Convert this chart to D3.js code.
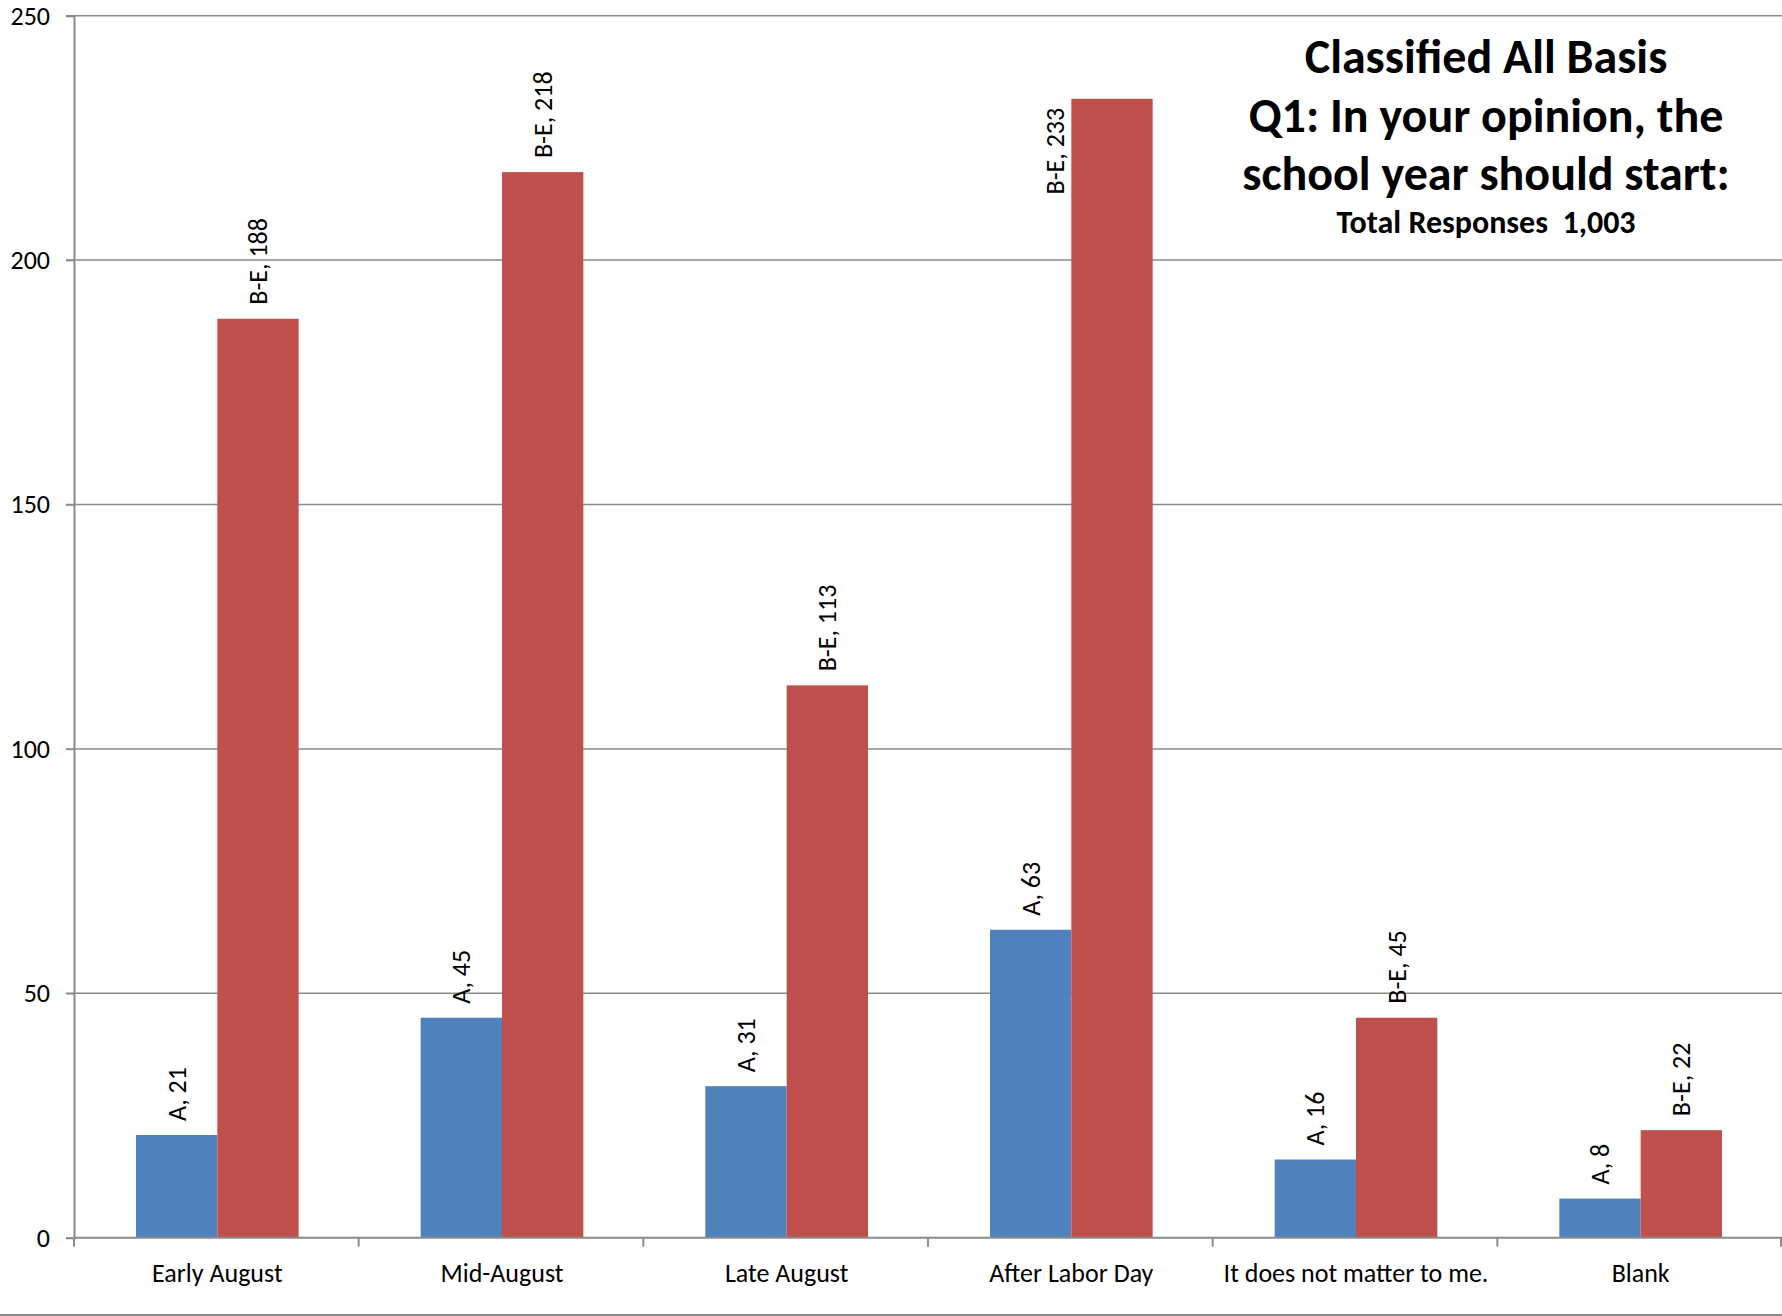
<!DOCTYPE html>
<html><head><meta charset="utf-8">
<script src="https://cdn.jsdelivr.net/npm/d3@7"></script>
<style>
html,body{margin:0;padding:0;background:#fff;}
svg{display:block;font-family:Calibri, Carlito, Lato, sans-serif;}
</style></head>
<body>
<script>
const categories = ["Early August","Mid-August","Late August","After Labor Day","It does not matter to me.","Blank"];
const seriesNames = ["A","B-E"];
const valuesA = [21,45,31,63,16,8];
const valuesBE = [188,218,113,233,45,22];
const yTicks = [0,50,100,150,200,250];
const titleLines = ["Classified All Basis","Q1: In your opinion, the","school year should start:"];
const subtitle = "Total Responses  1,003";
const colors = ["#4F81BD","#C0504D"];

(function(){
const W = 1782, H = 1316;
const pl = 74, pr = 1782, pt = 15.7, pb = 1237.7;
const FS = 26;

const svg = d3.select("body").append("svg").attr("width",W).attr("height",H);

const x = d3.scaleBand().domain(categories).range([pl+1,pr+1]).paddingInner(0).paddingOuter(0);
const barW = x.bandwidth()/3.5;
const xs = d3.scaleBand().domain(seriesNames).range([0,2*barW]);
const y = d3.scaleLinear().domain([0,250]).range([pb,pt]);

// gridlines
svg.append("g").selectAll("line").data(yTicks.filter(d=>d>0)).join("line")
  .attr("x1",66).attr("x2",pr).attr("y1",d=>y(d)).attr("y2",d=>y(d))
  .attr("stroke","#8a8a8a").attr("stroke-width",1.5);

// y axis
const yAxis = d3.axisLeft(y).tickValues(yTicks).tickSize(8).tickPadding(16);
const gy = svg.append("g").attr("transform",`translate(${pl},0)`).call(yAxis);
gy.select(".domain").attr("stroke","#8a8a8a").attr("stroke-width",2);
gy.selectAll(".tick line").attr("stroke","#8a8a8a").attr("stroke-width",1.5);
gy.selectAll(".tick text").attr("font-size",FS).attr("fill","#000").attr("font-family","Calibri, Carlito, Lato, sans-serif");

// bars
const data = categories.map((c,i)=>({cat:c, vals:[{s:"A",v:valuesA[i]},{s:"B-E",v:valuesBE[i]}]}));
const groups = svg.append("g").selectAll("g").data(data).join("g")
  .attr("transform",d=>`translate(${x(d.cat)+x.bandwidth()/2-barW},0)`);
groups.selectAll("rect").data(d=>d.vals).join("rect")
  .attr("x",d=>xs(d.s)).attr("width",barW)
  .attr("y",d=>y(d.v)).attr("height",d=>y(0)-y(d.v))
  .attr("fill",(d,i)=>colors[i]);
groups.selectAll("text").data(d=>d.vals).join("text")
  .attr("font-size",FS).attr("fill","#000")
  .text(d=>`${d.s}, ${d.v}`)
  .each(function(d){
    const len = this.getComputedTextLength();
    const gap = 14;
    const sel = d3.select(this);
    if (y(d.v) - gap - len < pt) {
      // does not fit above: place beside the bar, hanging from its top
      sel.attr("text-anchor","end")
        .attr("transform",`translate(${xs(d.s)-16+9},${y(d.v)+9}) rotate(-90)`);
    } else {
      sel.attr("transform",`translate(${xs(d.s)+barW/2+9},${y(d.v)-gap}) rotate(-90)`);
    }
  });

// x axis
const xAxisY = pb;
svg.append("line").attr("x1",pl).attr("x2",pr).attr("y1",xAxisY).attr("y2",xAxisY)
  .attr("stroke","#8a8a8a").attr("stroke-width",2);
const boundaries = categories.map(c=>x(c)-1).concat([pr-1]);
svg.append("g").selectAll("line").data(boundaries).join("line")
  .attr("x1",d=>d).attr("x2",d=>d).attr("y1",xAxisY).attr("y2",xAxisY+9)
  .attr("stroke","#8a8a8a").attr("stroke-width",2);
svg.append("g").selectAll("text").data(categories).join("text")
  .attr("x",d=>x(d)+x.bandwidth()/2).attr("y",1282)
  .attr("text-anchor","middle").attr("font-size",FS).attr("fill","#000")
  .text(d=>d);

// bottom border
svg.append("line").attr("x1",0).attr("x2",W).attr("y1",1315).attr("y2",1315)
  .attr("stroke","#8a8a8a").attr("stroke-width",2);

// title
const tg = svg.append("g").attr("text-anchor","middle").attr("font-weight","bold").attr("fill","#000");
const titleY = [73,132,190];
tg.selectAll("text.t").data(titleLines).join("text").attr("class","t")
  .attr("x",1486).attr("y",(d,i)=>titleY[i]).attr("font-size",48).text(d=>d);
tg.append("text").attr("x",1486).attr("y",233).attr("font-size",32).style("white-space","pre").text(subtitle);
})();
</script>
</body></html>
